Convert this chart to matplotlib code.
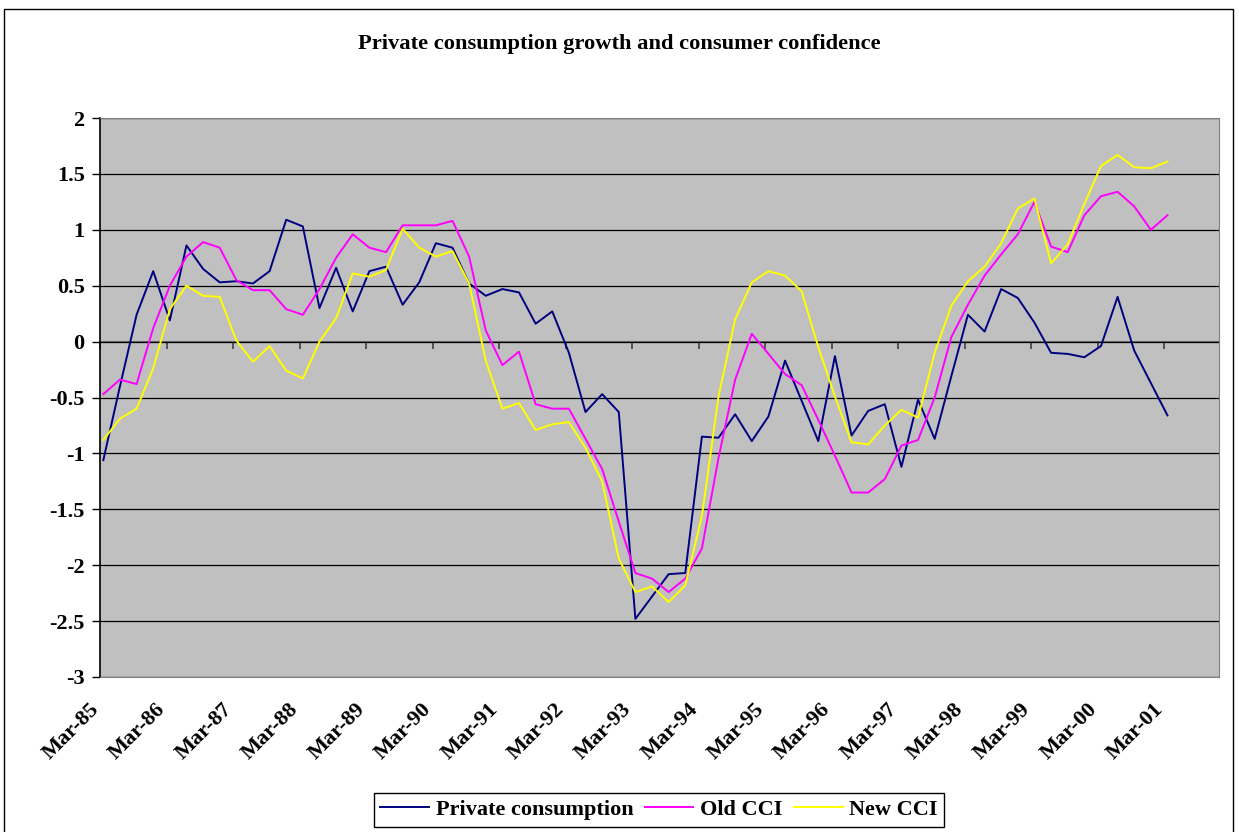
import matplotlib
matplotlib.use("Agg")
import matplotlib.pyplot as plt
from matplotlib.patches import Rectangle
from matplotlib.transforms import ScaledTranslation

# quarterly series, Mar-85 .. Mar-01 (65 quarters)
private_consumption = [
    -1.06, -0.40, 0.24, 0.63, 0.19, 0.86, 0.65, 0.53, 0.54, 0.52,
    0.63, 1.09, 1.03, 0.30, 0.66, 0.27, 0.63, 0.67, 0.33, 0.53,
    0.88, 0.84, 0.52, 0.41, 0.47, 0.44, 0.16, 0.27, -0.10, -0.63,
    -0.47, -0.63, -2.48, -2.28, -2.08, -2.07, -0.85, -0.86, -0.65, -0.89,
    -0.67, -0.17, -0.53, -0.89, -0.13, -0.84, -0.62, -0.56, -1.12, -0.52,
    -0.87, -0.31, 0.24, 0.09, 0.47, 0.39, 0.17, -0.10, -0.11, -0.14,
    -0.04, 0.40, -0.08, -0.37, -0.66,
]
old_cci = [
    -0.47, -0.34, -0.38, 0.12, 0.50, 0.76, 0.89, 0.84, 0.55, 0.46,
    0.46, 0.29, 0.24, 0.47, 0.75, 0.96, 0.84, 0.80, 1.04, 1.04,
    1.04, 1.08, 0.76, 0.10, -0.21, -0.09, -0.56, -0.60, -0.60, -0.87,
    -1.14, -1.61, -2.07, -2.12, -2.24, -2.12, -1.85, -1.04, -0.34, 0.07,
    -0.11, -0.29, -0.39, -0.70, -1.02, -1.35, -1.35, -1.23, -0.93, -0.88,
    -0.50, 0.04, 0.33, 0.59, 0.78, 0.96, 1.25, 0.85, 0.80, 1.13,
    1.30, 1.34, 1.21, 1.00, 1.13,
]
new_cci = [
    -0.88, -0.69, -0.60, -0.24, 0.29, 0.50, 0.41, 0.40, 0.01, -0.18,
    -0.04, -0.26, -0.33, 0.00, 0.21, 0.61, 0.58, 0.64, 1.01, 0.84,
    0.76, 0.81, 0.52, -0.17, -0.60, -0.55, -0.79, -0.74, -0.72, -0.95,
    -1.25, -1.94, -2.24, -2.19, -2.33, -2.18, -1.56, -0.49, 0.20, 0.53,
    0.63, 0.59, 0.45, -0.05, -0.49, -0.90, -0.92, -0.75, -0.61, -0.68,
    -0.10, 0.32, 0.54, 0.67, 0.88, 1.19, 1.28, 0.70, 0.87, 1.23,
    1.57, 1.67, 1.56, 1.55, 1.61,
]
year_labels = ["Mar-85", "Mar-86", "Mar-87", "Mar-88", "Mar-89", "Mar-90",
               "Mar-91", "Mar-92", "Mar-93", "Mar-94", "Mar-95", "Mar-96",
               "Mar-97", "Mar-98", "Mar-99", "Mar-00", "Mar-01"]
y_ticks = [2, 1.5, 1, 0.5, 0, -0.5, -1, -1.5, -2, -2.5, -3]

font = "Liberation Serif"
plt.rcParams["font.family"] = [font, "DejaVu Serif"]
plt.rcParams["font.weight"] = "bold"

fig = plt.figure(figsize=(12.39, 8.32), dpi=100)
# outer chart border
fig.patches.append(Rectangle((4 / 1239, -0.01), 1229 / 1239, 1 - 9 / 832 + 0.01,
                             transform=fig.transFigure, fill=False,
                             edgecolor="black", linewidth=1))

ax = fig.add_axes([100 / 1239, 1 - 677 / 832, 1119 / 1239, 559 / 832])
ax.set_facecolor("#C0C0C0")

# data sits a bit after the quarter start (date axis)
x = [i + 0.2 for i in range(len(private_consumption))]
ax.plot(x, private_consumption, color="#000080", lw=1.4, label="Private consumption")
ax.plot(x, old_cci, color="#FF00FF", lw=1.4, label="Old CCI")
ax.plot(x, new_cci, color="#FFFF00", lw=1.4, label="New CCI")

ax.set_ylim(-3, 2)
ax.set_xlim(0, 67.3)
ax.set_yticks(y_ticks)
ax.set_yticklabels(["%g" % v for v in y_ticks])
ax.yaxis.grid(True, color="black", lw=0.9)
ax.set_axisbelow(True)
ax.tick_params(axis="y", direction="out", length=6, width=1, pad=5,
               labelsize=16, colors="black")

tick_pos = [4 * k for k in range(len(year_labels))]
ax.set_xticks(tick_pos)
ax.set_xticklabels(year_labels, rotation=45, ha="right", rotation_mode="anchor",
                   fontsize=16, fontweight="bold")
ax.tick_params(axis="x", length=0, pad=16)
shift = ScaledTranslation(-11 / 100, 0, fig.dpi_scale_trans)
for lbl in ax.get_xticklabels():
    lbl.set_transform(lbl.get_transform() + shift)

for s in ["top", "right", "bottom"]:
    ax.spines[s].set_color("#808080")
ax.spines["left"].set_color("black")
ax.spines["left"].set_linewidth(1.2)

# category axis crossing at zero
sec = ax.secondary_xaxis(0.6)
sec.set_alignment("bottom")
sec.set_xticks(tick_pos)
sec.tick_params(axis="x", direction="out", length=5, width=1.2,
                color="#404040", labelbottom=False)
sec.spines["bottom"].set_color("#707070")
sec.spines["bottom"].set_linewidth(1.5)

fig.text(0.5, 1 - 44 / 832, "Private consumption growth and consumer confidence",
         ha="center", va="center", fontsize=16.2, fontweight="bold")

leg = fig.legend(loc="upper center", bbox_to_anchor=(659 / 1239, 1 - 793 / 832),
                 ncol=3, frameon=True, fancybox=False, framealpha=1,
                 edgecolor="black", prop={"family": font, "weight": "bold", "size": 16},
                 handlelength=2.2, handletextpad=0.3, columnspacing=0.5,
                 borderpad=0.3, borderaxespad=0)
leg.get_frame().set_linewidth(1)

fig.savefig("out.png", dpi=100)
